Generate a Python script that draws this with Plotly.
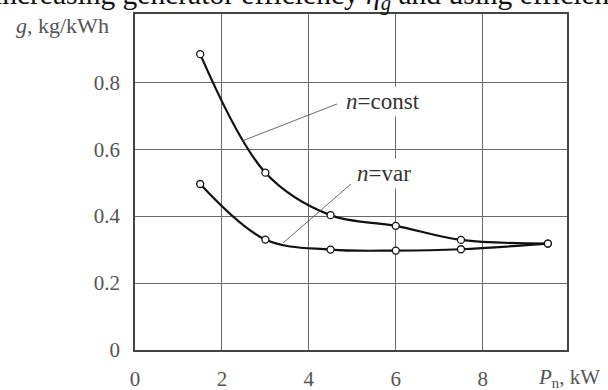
import plotly.graph_objects as go

# Data
p_const = [1.5, 3.0, 4.5, 6.0, 7.5, 9.5]
g_const = [0.884, 0.530, 0.403, 0.371, 0.329, 0.318]
p_var = [1.5, 3.0, 4.5, 6.0, 7.5, 9.5]
g_var = [0.496, 0.330, 0.300, 0.297, 0.301, 0.318]

x_ticks = [0, 2, 4, 6, 8]
y_ticks = [0, 0.2, 0.4, 0.6, 0.8]
y_tick_text = ["0", "0.2", "0.4", "0.6", "0.8"]

SERIF = "Liberation Serif"
GRAY = "#555555"

W, H = 608, 390
L, R, T, B = 135, 41, 14, 40
X_MAX, Y_MAX = 9.94, 1.004

fig = go.Figure()
marker = dict(symbol="circle", size=7, color="white", line=dict(color="#111111", width=1.3))
for xs, ys in [(p_const, g_const), (p_var, g_var)]:
    fig.add_trace(go.Scatter(
        x=xs, y=ys, mode="lines+markers",
        line=dict(color="#111111", width=2.2, shape="spline", smoothing=1.0),
        marker=marker, showlegend=False, hoverinfo="skip", cliponaxis=False))

fig.update_layout(
    template="none",
    width=W, height=H,
    margin=dict(l=L, r=R, t=T, b=B, autoexpand=False),
    paper_bgcolor="white", plot_bgcolor="white",
    font=dict(family=SERIF, color=GRAY, size=21),
    xaxis=dict(range=[0, X_MAX], tickvals=x_ticks, showgrid=True, gridcolor="#6a6a6a", gridwidth=1,
               zeroline=False, showline=True, linecolor="#444444", linewidth=1.5, mirror=True,
               automargin=False,
               ticks="", ticklabelstandoff=9, tickfont=dict(size=21, color=GRAY, family=SERIF)),
    yaxis=dict(range=[0, Y_MAX], tickvals=y_ticks, ticktext=y_tick_text, showgrid=True,
               gridcolor="#6a6a6a", gridwidth=1, automargin=False,
               zeroline=False, showline=True, linecolor="#444444", linewidth=1.5, mirror=True,
               ticks="", ticklabelstandoff=9, tickfont=dict(size=21, color=GRAY, family=SERIF)),
)

pw = W - L - R
ph = H - T - B
def px_x(px):
    return (px - L) / pw
def px_y(py):
    return (H - B - py) / ph

# Leader lines
fig.add_shape(type="line", xref="paper", yref="paper",
              x0=px_x(337), y0=px_y(104), x1=px_x(242), y1=px_y(141),
              line=dict(color="#444444", width=0.8))
fig.add_shape(type="line", xref="paper", yref="paper",
              x0=px_x(351), y0=px_y(184), x1=px_x(283), y1=px_y(243),
              line=dict(color="#444444", width=0.8))

# Curve labels with white box
fig.add_annotation(xref="paper", yref="paper", x=px_x(383), y=px_y(102),
                   xanchor="center", yanchor="middle",
                   text="<i>n</i>=const", showarrow=False, bgcolor="white",
                   font=dict(family=SERIF, size=23, color="#333333"), borderpad=2)
fig.add_annotation(xref="paper", yref="paper", x=px_x(384), y=px_y(173),
                   xanchor="center", yanchor="middle",
                   text="<i>n</i>=var", showarrow=False, bgcolor="white",
                   font=dict(family=SERIF, size=23, color="#333333"), borderpad=2)

# Axis titles
fig.add_annotation(xref="paper", yref="paper", x=px_x(62), y=px_y(25),
                   xanchor="center", yanchor="middle",
                   text="<i>g</i>, kg/kWh", showarrow=False,
                   font=dict(family=SERIF, size=22, color=GRAY))
fig.add_annotation(xref="paper", yref="paper", x=px_x(536), y=px_y(378),
                   xanchor="left", yanchor="middle",
                   text="<i>P</i><sub>n</sub>, kW", showarrow=False,
                   font=dict(family=SERIF, size=21, color=GRAY))

# Cropped caption text at the very top
fig.add_annotation(xref="paper", yref="paper", x=px_x(-8), y=px_y(17), xanchor="left", yanchor="bottom",
                   text="increasing generator efficiency <i>η<sub>g</sub></i> and using efficiency",
                   showarrow=False, font=dict(family=SERIF, size=29.5, color="#111111"))

fig.write_html("out.html")
